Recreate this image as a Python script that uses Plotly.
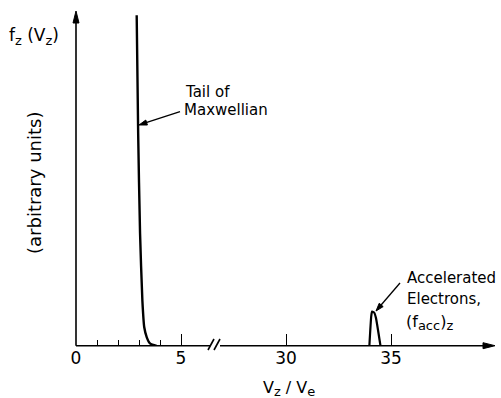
import math
import plotly.graph_objects as go

# ---- data (real V_z/V_e units; axis is broken between ~6.5 and ~26.5) ----
maxw_x = [2.89, 2.96, 3.05, 3.16, 3.25, 3.37, 3.52, 3.84]
maxw_y = [0.99, 0.637, 0.338, 0.137, 0.056, 0.026, 0.008, 0.0]

acc_x = [33.97, 34.06, 34.10, 34.20, 34.28, 34.50]
acc_y = [0.0, 0.09, 0.103, 0.10, 0.085, 0.0]

tick_vals_real = [0, 5, 30, 35]
tick_text = ["0", "5", "30", "35"]
minor_vals_real = [1, 2, 3, 4]

BREAK_SHIFT = 20  # units removed by the axis break


def brk(v):
    return v - BREAK_SHIFT if v > 20 else v


W, H = 501, 398
L, R, T, B = 76, 5, 12, 52
PW, PH = W - L - R, H - T - B
FONT = "DejaVu Sans"


def px(xp):
    return (xp - L) / PW


def py(yp):
    return (H - B - yp) / PH


fig = go.Figure()
fig.add_trace(go.Scatter(x=[brk(v) for v in maxw_x], y=maxw_y, mode="lines",
                         line=dict(color="black", width=2.4, shape="spline", smoothing=0.6),
                         hoverinfo="skip", showlegend=False, cliponaxis=False))
fig.add_trace(go.Scatter(x=[brk(v) for v in acc_x], y=acc_y, mode="lines",
                         line=dict(color="black", width=2.2, shape="spline", smoothing=0.5),
                         hoverinfo="skip", showlegend=False, cliponaxis=False))

shapes = []


def seg(x0, y0, x1, y1, w=1.6):
    shapes.append(dict(type="line", xref="paper", yref="paper",
                       x0=px(x0), y0=py(y0), x1=px(x1), y1=py(y1),
                       line=dict(color="black", width=w)))


def head(tipx, tipy, fromx, fromy, length=11, half=3):
    dx, dy = fromx - tipx, fromy - tipy
    n = math.hypot(dx, dy)
    ux, uy = dx / n, dy / n
    bx, by = tipx + ux * length, tipy + uy * length
    pxp, pyp = -uy, ux
    pts = [(tipx, tipy), (bx + pxp * half, by + pyp * half), (bx - pxp * half, by - pyp * half)]
    path = "M " + " L ".join(f"{px(a):.5f},{py(b):.5f}" for a, b in pts) + " Z"
    shapes.append(dict(type="path", xref="paper", yref="paper", path=path,
                       fillcolor="black", line=dict(color="black", width=1)))


# y axis with arrow
seg(76, 345.7, 76, 20)
head(76, 11, 76, 40, length=12, half=3)
# x axis in two pieces around the break, with arrow
seg(76, 345.7, 210, 345.7)
seg(220, 345.7, 486, 345.7)
head(495, 345.7, 470, 345.7, length=12, half=3)
# break marks //
for xs in (208, 214):
    seg(xs, 350, xs + 6, 339)

# pointer arrows
seg(180, 111.7, 143, 123.7, w=1.3)
head(139, 125, 180, 111.7, length=8, half=2.6)
seg(400, 283, 378.5, 308, w=1.3)
head(376, 311, 400, 283, length=8, half=2.6)

ann = []


def txt(s, xl, yc, size=15, xanchor="left", textangle=0):
    ann.append(dict(text=s, x=px(xl), y=py(yc), xref="paper", yref="paper",
                    xanchor=xanchor, yanchor="middle", showarrow=False, textangle=textangle,
                    font=dict(family=FONT, size=size, color="black")))


SUB = "<sub><span style='font-size:13px'>{}</span></sub>"

txt("f" + SUB.format("z") + " (V" + SUB.format("z") + ")", 7, 37, size=17)
txt("(arbitrary units)", 34, 183, size=18, xanchor="center", textangle=-90)
txt("Tail of", 183, 92)
txt("Maxwellian", 182, 110)
txt("Accelerated", 405, 278)
txt("Electrons,", 405, 299)
txt("(f" + SUB.format("acc") + ")" + SUB.format("z"), 404, 322, size=16)
txt("V" + SUB.format("z") + " / V" + SUB.format("e"), 289, 388, size=16, xanchor="center")

fig.update_layout(
    width=W, height=H, margin=dict(l=L, r=R, t=T, b=B),
    plot_bgcolor="white", paper_bgcolor="white",
    shapes=shapes, annotations=ann, showlegend=False,
    xaxis=dict(range=[0, 20], showgrid=False, zeroline=False, showline=False,
               tickmode="array", tickvals=[brk(v) for v in tick_vals_real], ticktext=tick_text,
               ticks="inside", ticklen=12, tickwidth=1.4, tickcolor="black",
               tickfont=dict(family=FONT, size=17, color="black"),
               minor=dict(tickmode="array", tickvals=minor_vals_real, ticks="inside",
                          ticklen=6, tickwidth=1.2, tickcolor="black", showgrid=False)),
    yaxis=dict(range=[0, 1], showgrid=False, zeroline=False, showline=False,
               showticklabels=False, ticks=""),
)

fig.write_html("out.html", config={"displayModeBar": False},
               post_script="document.body.style.margin='0';document.body.style.overflow='hidden';")
